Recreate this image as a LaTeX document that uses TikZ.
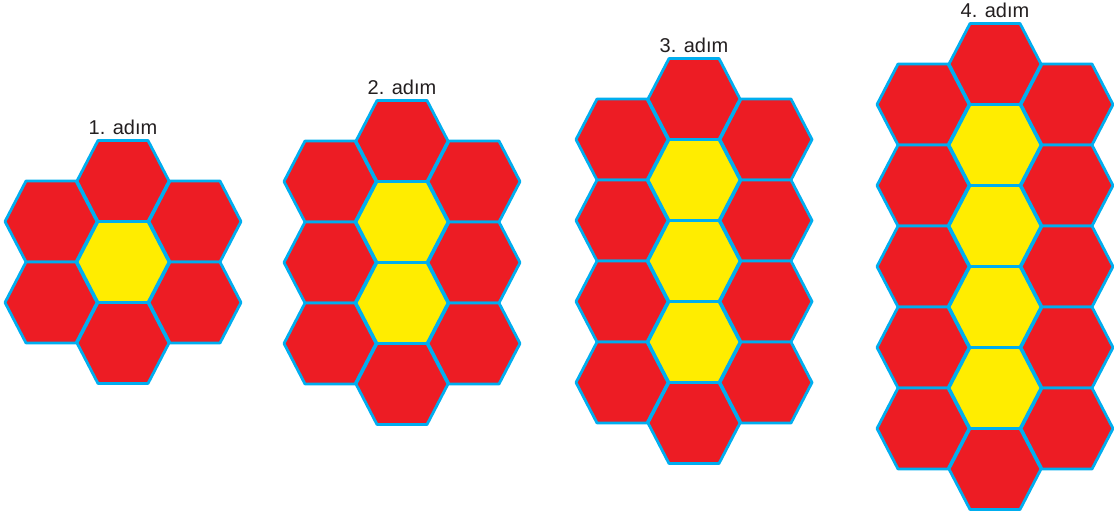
\documentclass[tikz,border=0pt]{standalone}
\usepackage{fontspec}
\setmainfont{Liberation Sans}
\usepackage{tikz}
\usetikzlibrary{positioning}
\definecolor{hexred}{RGB}{237, 28, 36}
\definecolor{hexyellow}{RGB}{255, 237, 0}
\definecolor{hexblue}{RGB}{0, 174, 239}
\definecolor{labelgray}{RGB}{35, 31, 32}
\tikzset{
  hexline/.style={draw=hexblue, line width=2.1pt, line join=round},
  steplabel/.style={text=labelgray, font=\fontsize{15}{18}\selectfont, inner sep=0pt}
}
% one hexagon cell: centre x, centre y, fill colour
\newcommand{\hexcell}[3]{%
  \filldraw[hexline, fill=#3] ({#1-46},{#2}) -- ++(21,-40.5) -- ++(50,0)
    -- ++(21,40.5) -- ++(-21,40.5) -- ++(-50,0) -- cycle;}

\begin{document}
\begin{tikzpicture}[x=0.75pt, y=-0.75pt]
    \useasboundingbox (0,0) rectangle (1114,516);

    % steps: number / centre column x / top cell y
    \foreach \n/\cx/\ty in {1/123/181, 2/402/141, 3/694/99, 4/995/64} {
        % side columns
        \foreach \k in {0,...,\n} {
            \hexcell{\cx-72}{\ty+40.5+81*\k}{hexred}
            \hexcell{\cx+72}{\ty+40.5+81*\k}{hexred}
        }
        % middle column
        \hexcell{\cx}{\ty}{hexred}
        \foreach \k in {1,...,\n} {
            \hexcell{\cx}{\ty+81*\k}{hexyellow}
        }
        \hexcell{\cx}{\ty+81*(\n+1)}{hexred}
        % label
        \node[steplabel] (lbl\n) at (\cx, \ty-54) {\n. adım};
    }
\end{tikzpicture}
\end{document}
